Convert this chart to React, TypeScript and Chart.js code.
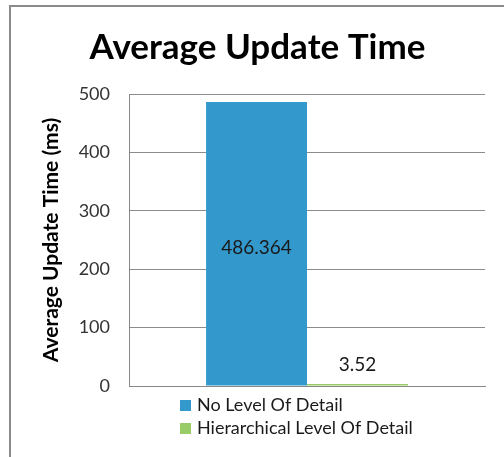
import React, { useEffect, useRef } from "react";
import { Chart, registerables } from "chart.js";

Chart.register(...registerables);

const categories = [""];
const seriesNames = ["No Level Of Detail", "Hierarchical Level Of Detail"];
const noLodValues = [486.364];
const hierLodValues = [3.52];
const seriesColors = ["#3399cc", "#99cc66"];
const yTicks = [0, 100, 200, 300, 400, 500];
const titleText = "Average Update Time";
const yAxisTitle = "Average Update Time (ms)";

const FONT = "Lato, 'Open Sans', sans-serif";

const dataLabelPlugin = {
  id: "dataLabels",
  afterDatasetsDraw(chart: any) {
    const ctx = chart.ctx;
    ctx.save();
    ctx.font = `19px ${FONT}`;
    ctx.fillStyle = "#1a1a1a";
    ctx.textAlign = "center";
    ctx.textBaseline = "middle";
    chart.data.datasets.forEach((ds: any, di: number) => {
      const meta = chart.getDatasetMeta(di);
      meta.data.forEach((bar: any, i: number) => {
        const v = ds.data[i];
        const h = bar.base - bar.y;
        const y = h > 40 ? (bar.y + bar.base) / 2 + 4 : bar.y - 19;
        ctx.fillText(String(v), bar.x, y);
      });
    });
    ctx.restore();
  },
};

const legendPlugin = {
  id: "vertLegend",
  afterDraw(chart: any) {
    const ctx = chart.ctx;
    const area = chart.chartArea;
    ctx.save();
    ctx.font = `18px ${FONT}`;
    ctx.textAlign = "left";
    ctx.textBaseline = "middle";
    chart.data.datasets.forEach((ds: any, di: number) => {
      const x = area.left + 51;
      const y = area.bottom + 19 + di * 23;
      ctx.fillStyle = ds.backgroundColor;
      ctx.fillRect(x, y - 5, 11, 11);
      ctx.fillStyle = "#1a1a1a";
      ctx.fillText(ds.label, x + 17, y);
    });
    ctx.restore();
  },
};

export default function App() {
  const ref = useRef<HTMLCanvasElement>(null);
  useEffect(() => {
    if (!ref.current) return;
    const chart = new Chart(ref.current, {
      type: "bar",
      data: {
        labels: categories,
        datasets: [
          { label: seriesNames[0], data: noLodValues, backgroundColor: seriesColors[0] },
          { label: seriesNames[1], data: hierLodValues, backgroundColor: seriesColors[1] },
        ],
      },
      options: {
        animation: false,
        responsive: false,
        layout: { padding: { left: 30, right: 19, top: 14, bottom: 71 } },
        plugins: {
          legend: { display: false },
          tooltip: { enabled: false },
          title: {
            display: true,
            text: titleText,
            color: "#000",
            font: { family: FONT, size: 35, weight: "bold" },
            padding: { top: 13, bottom: 25 },
          },
        },
        scales: {
          x: {
            ticks: { display: false },
            grid: { display: false, drawTicks: false },
            border: { color: "#888", width: 1 },
          },
          y: {
            min: 0,
            max: 500,
            afterBuildTicks: (scale: any) => {
              scale.ticks = yTicks.map((v) => ({ value: v }));
            },
            afterFit: (scale: any) => {
              scale.width = 99;
            },
            ticks: {
              color: "#333",
              font: { family: FONT, size: 18 },
              padding: 19,
            },
            grid: { color: "#8c8c8c", drawTicks: false },
            border: { color: "#888", width: 1 },
            title: {
              display: true,
              text: yAxisTitle,
              color: "#000",
              font: { family: FONT, size: 21, weight: "bold" },
              padding: { top: 9, bottom: 0 },
            },
          },
        },
        datasets: {
          bar: { categoryPercentage: 0.567, barPercentage: 1 },
        },
      } as any,
      plugins: [dataLabelPlugin, legendPlugin],
    });
    return () => chart.destroy();
  }, []);

  return (
    <div style={{ position: "fixed", left: 0, top: 0, width: 504, height: 457, background: "#fff", overflow: "hidden" }}>
      <div
        style={{
          position: "absolute",
          left: 9,
          top: 5,
          width: 560,
          height: 520,
          border: "2px solid #8a8a8a",
        }}
      />
      <canvas ref={ref} width={504} height={457} style={{ position: "absolute", left: 0, top: 0 }} />
    </div>
  );
}
